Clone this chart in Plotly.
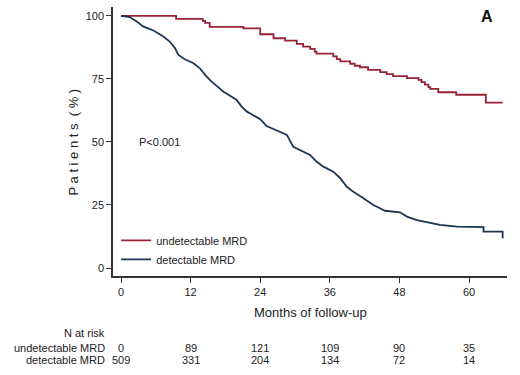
import plotly.graph_objects as go

# Kaplan-Meier curves (months, % patients)
undet_months = [0, 9.5, 14.1, 14.5, 15.3, 21.1, 24.0, 26.3, 28.3, 30.3, 31.4, 32.6, 33.4, 33.7,
                36.6, 37.2, 37.8, 39.5, 40.3, 41.2, 42.6, 44.7, 45.8, 46.9, 49.3, 51.3, 51.8,
                52.4, 53.0, 53.3, 54.7, 57.8, 62.9, 65.8]
undet_pct = [100, 98.8, 98.0, 97.2, 95.6, 95.0, 92.7, 91.1, 90.2, 88.9, 87.8, 86.9, 85.8, 85.0,
             83.9, 82.8, 81.9, 81.0, 80.2, 79.6, 78.6, 77.7, 76.9, 76.1, 75.3, 74.6, 73.7,
             72.7, 71.7, 71.0, 69.7, 68.7, 65.6, 65.6]

det_months = [0, 1.5, 2.7, 3.8, 5.6, 7.3, 8.4, 9.3, 9.9, 11.0, 12.5, 13.6, 14.5, 15.3, 16.5,
              17.6, 18.8, 19.9, 20.8, 21.7, 22.2, 24.0, 25.1, 26.8, 28.6, 29.7, 30.9, 32.6,
              33.7, 34.9, 36.6, 37.8, 38.9, 40.0, 41.8, 43.5, 44.4, 45.5, 48.1, 49.3, 51.0,
              53.3, 55.0, 57.9, 62.5, 62.5, 65.8, 65.8]
det_pct = [100, 99.5, 97.8, 95.8, 94.2, 91.8, 89.8, 87.2, 84.5, 82.8, 81.2, 79.2, 76.6, 74.6, 72.2,
           70.0, 68.3, 66.7, 64.0, 62.0, 61.4, 59.0, 56.3, 54.5, 52.8, 48.1, 46.8, 44.8,
           42.2, 40.2, 38.2, 35.6, 32.3, 30.3, 27.7, 25.0, 24.0, 22.7, 22.1, 20.4, 19.0,
           18.0, 17.1, 16.4, 16.2, 14.4, 14.4, 11.8]

series_names = ["undetectable MRD", "detectable MRD"]
x_ticks = [0, 12, 24, 36, 48, 60]
y_ticks = [0, 25, 50, 75, 100]

risk_label = "N at risk"
risk_undet = [0, 89, 121, 109, 90, 35]
risk_det = [509, 331, 204, 134, 72, 14]

RED = "#9a2237"
BLUE = "#1c3552"
AX = "#333333"
FONT = "Arial, Liberation Sans, sans-serif"

fig = go.Figure()
fig.add_trace(go.Scatter(x=undet_months, y=undet_pct, mode="lines", line_shape="hv",
                         line=dict(color=RED, width=1.8), name=series_names[0]))
fig.add_trace(go.Scatter(x=det_months, y=det_pct, mode="lines", line_shape="linear",
                         line=dict(color=BLUE, width=1.8), name=series_names[1]))

fig.update_layout(
    width=520, height=375,
    margin=dict(l=113, r=13, t=7, b=99),
    paper_bgcolor="white", plot_bgcolor="white",
    font=dict(family=FONT, size=11, color="#222"),
    showlegend=True,
    legend=dict(x=0.008, y=0.186, xanchor="left", yanchor="top",
                bgcolor="rgba(0,0,0,0)", font=dict(size=11, color="#222"),
                tracegroupgap=0, itemwidth=30),
    xaxis=dict(range=[-1.38, 66.55], tickvals=x_ticks, showgrid=False, zeroline=False,
               showline=True, linecolor=AX, linewidth=1.5, ticks="outside", ticklen=5,
               tickcolor=AX, tickwidth=1.2, tickfont=dict(size=11, color="#222")),
    yaxis=dict(range=[-3.17, 103.5], tickvals=y_ticks, showgrid=False, zeroline=False,
               showline=True, linecolor=AX, linewidth=1.5, ticks="outside", ticklen=5,
               tickcolor=AX, tickwidth=1.2, tickfont=dict(size=11, color="#222")),
)

ann = []
ann.append(dict(text="P a t i e n t s  ( % )", xref="paper", yref="paper", x=-0.099, y=0.5,
                xanchor="center", yanchor="middle", textangle=-90, showarrow=False,
                font=dict(size=13, color="#222")))
ann.append(dict(text="Months of follow-up", xref="paper", yref="paper", x=0.5, y=-0.1375,
                xanchor="center", yanchor="middle", showarrow=False, font=dict(size=13, color="#222")))
ann.append(dict(text="P<0.001", xref="x", yref="y", x=2.7, y=50, xanchor="left", yanchor="middle",
                showarrow=False, font=dict(size=11, color="#222")))
ann.append(dict(text="<b>A</b>", xref="paper", yref="paper", x=0.949, y=0.963, xanchor="center",
                yanchor="middle", showarrow=False, font=dict(size=16, color="#111")))

row_y = [-0.212, -0.2677, -0.312]
lbl_x = -0.016
ann.append(dict(text=risk_label, xref="paper", yref="paper", x=lbl_x, y=row_y[0],
                xanchor="right", yanchor="middle", showarrow=False, font=dict(size=11, color="#222")))
for lbl, vals, yy in [(series_names[0], risk_undet, row_y[1]), (series_names[1], risk_det, row_y[2])]:
    ann.append(dict(text=lbl, xref="paper", yref="paper", x=lbl_x, y=yy,
                    xanchor="right", yanchor="middle", showarrow=False, font=dict(size=11, color="#222")))
    for xv, v in zip(x_ticks, vals):
        ann.append(dict(text=str(v), xref="x", yref="paper", x=xv, y=yy, xanchor="center",
                        yanchor="middle", showarrow=False, font=dict(size=11, color="#222")))
fig.update_layout(annotations=ann)

fig.write_html("out.html", config={"displayModeBar": False},
               post_script="document.body.style.margin='0';")
